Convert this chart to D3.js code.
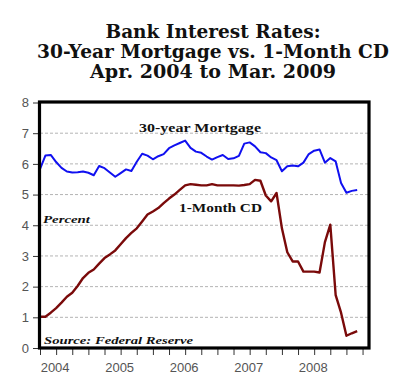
<!DOCTYPE html>
<html>
<head>
<meta charset="utf-8">
<script src="https://cdn.jsdelivr.net/npm/d3@7"></script>
<style>
  body { margin: 0; background: #fff; }
  svg { display: block; }
</style>
</head>
<body>
<div id="chart"></div>
<script>
// monthly, Apr 2004 .. Mar 2009
var mortgage = [
  5.83, 6.27, 6.29, 6.06, 5.87, 5.75, 5.72, 5.73, 5.75,
  5.71, 5.63, 5.93, 5.86, 5.72, 5.58, 5.70, 5.82, 5.77, 6.07, 6.33, 6.27,
  6.15, 6.25, 6.32, 6.51, 6.60, 6.68, 6.76, 6.52, 6.40, 6.36, 6.24, 6.14,
  6.22, 6.29, 6.16, 6.18, 6.26, 6.66, 6.70, 6.57, 6.38, 6.35, 6.21, 6.12,
  5.76, 5.92, 5.95, 5.92, 6.04, 6.32, 6.43, 6.47, 6.04, 6.19, 6.08, 5.38,
  5.06, 5.12, 5.15
];
var cd = [
  1.02, 1.02, 1.15, 1.30, 1.48, 1.67, 1.80, 2.02, 2.28,
  2.45, 2.56, 2.75, 2.93, 3.05, 3.18, 3.38, 3.58, 3.75, 3.90, 4.12, 4.35,
  4.45, 4.56, 4.72, 4.87, 5.00, 5.15, 5.30, 5.34, 5.32, 5.30, 5.30, 5.34,
  5.30, 5.30, 5.30, 5.30, 5.29, 5.31, 5.34, 5.48, 5.45, 4.97, 4.78, 5.05,
  3.90, 3.12, 2.82, 2.82, 2.49, 2.49, 2.49, 2.46, 3.45, 4.02, 1.72, 1.15,
  0.40, 0.48, 0.55
];
var yearLabels = ["2004", "2005", "2006", "2007", "2008"];
var yearMid = [3, 15, 27, 39, 51];   // July of each year, as month index
var yTicks = [0, 1, 2, 3, 4, 5, 6, 7, 8];
var titleLines = ["Bank Interest Rates:", "30-Year Mortgage vs. 1-Month CD", "Apr. 2004 to Mar. 2009"];

var width = 400, height = 380;
var margin = { top: 102.5, right: 31, bottom: 32, left: 40 };

var svg = d3.select('#chart')
  .append('svg')
  .attr('width', width)
  .attr('height', height);

var x = d3.scaleLinear()
  .domain([0, 61.2])
  .range([margin.left, width - margin.right]);

var y = d3.scaleLinear()
  .domain([0, 8])
  .range([height - margin.bottom, margin.top]);

// title
var titleWidths = [215, 352, 246];
svg.selectAll('text.title')
  .data(titleLines)
  .enter()
  .append('text')
  .attr('class', 'title')
  .attr('x', 213)
  .attr('y', function(d, i) { return 38 + i * 20.2; })
  .attr('text-anchor', 'middle')
  .attr('font-family', 'DejaVu Serif, serif')
  .attr('font-weight', 'bold')
  .attr('font-size', 18)
  .attr('textLength', function(d, i) { return titleWidths[i]; })
  .attr('lengthAdjust', 'spacingAndGlyphs')
  .attr('fill', '#111')
  .text(function(d) { return d; });

// dashed grid
svg.append('g')
  .selectAll('line')
  .data(yTicks.slice(1, -1))
  .enter()
  .append('line')
  .attr('x1', margin.left)
  .attr('x2', width - margin.right)
  .attr('y1', function(d) { return y(d); })
  .attr('y2', function(d) { return y(d); })
  .attr('stroke', '#b4b4b4')
  .attr('stroke-width', 1)
  .attr('stroke-dasharray', '3,2');

// y axis
var yAxis = svg.append('g')
  .attr('transform', 'translate(' + (margin.left - 1) + ',0)')
  .call(d3.axisLeft(y).tickValues(yTicks).tickSize(6).tickPadding(4).tickFormat(d3.format('d')));
yAxis.select('.domain').remove();
yAxis.selectAll('line').attr('stroke', '#333');
yAxis.selectAll('text')
  .attr('font-family', 'Liberation Sans, Arial, sans-serif')
  .attr('font-size', 13)
  .attr('fill', '#555');

// x axis quarterly ticks
var xAxis = svg.append('g')
  .attr('transform', 'translate(0,' + (height - margin.bottom + 1) + ')')
  .call(d3.axisBottom(x).tickValues(d3.range(0, 61, 3)).tickSize(6).tickFormat(''));
xAxis.select('.domain').remove();
xAxis.selectAll('line').attr('stroke', '#333');

svg.append('g')
  .selectAll('text')
  .data(yearLabels)
  .enter()
  .append('text')
  .attr('x', function(d, i) { return x(yearMid[i]) - 1; })
  .attr('y', 372)
  .attr('text-anchor', 'middle')
  .attr('font-family', 'Liberation Sans, Arial, sans-serif')
  .attr('font-size', 13)
  .attr('fill', '#555')
  .text(function(d) { return d; });

// lines
var line = d3.line()
  .x(function(d, i) { return x(i); })
  .y(function(d) { return y(d); });

svg.append('path')
  .datum(mortgage)
  .attr('d', line)
  .attr('fill', 'none')
  .attr('stroke', '#1010f0')
  .attr('stroke-width', 2)
  .attr('stroke-linejoin', 'round');

svg.append('path')
  .datum(cd)
  .attr('d', line)
  .attr('fill', 'none')
  .attr('stroke', '#7a0a0a')
  .attr('stroke-width', 2.4)
  .attr('stroke-linejoin', 'round');

// frame
svg.append('rect')
  .attr('x', margin.left - 0.5)
  .attr('y', margin.top - 0.5)
  .attr('width', width - margin.right - margin.left + 0.5)
  .attr('height', height - margin.bottom - margin.top + 0.5)
  .attr('fill', 'none')
  .attr('stroke', '#000')
  .attr('stroke-width', 3.2);

// labels in plot
function label(txt, lx, ly, len, italic) {
  svg.append('text')
    .attr('x', lx)
    .attr('y', ly)
    .attr('font-family', 'Liberation Serif, serif')
    .attr('font-weight', 'bold')
    .attr('font-style', italic ? 'italic' : 'normal')
    .attr('font-size', italic ? 11 : 13)
    .attr('textLength', len)
    .attr('lengthAdjust', 'spacingAndGlyphs')
    .attr('fill', '#111')
    .text(txt);
}
label('30-year Mortgage', 139, 131.5, 122, false);
label('1-Month CD', 179, 211.5, 83, false);
label('Percent', 43, 222.5, 47, true);
label('Source: Federal Reserve', 44, 344, 149, true);
</script>
</body>
</html>
